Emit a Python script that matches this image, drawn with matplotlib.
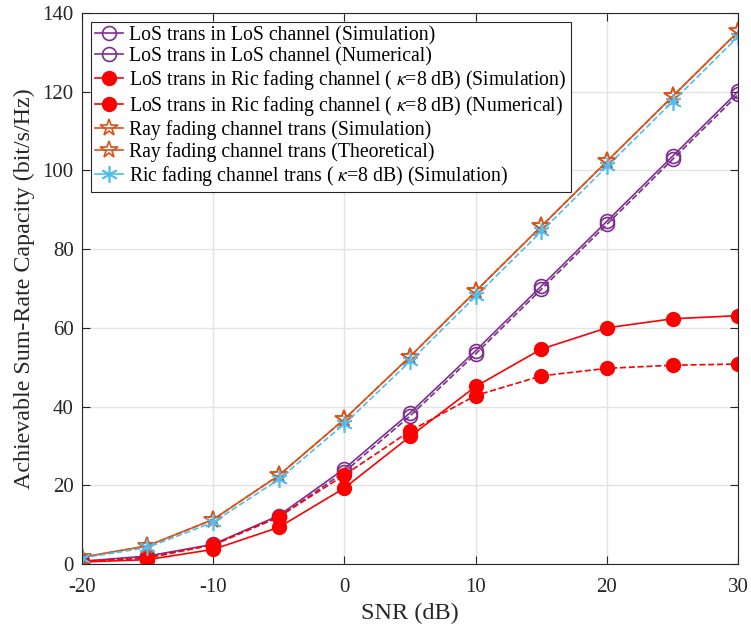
import numpy as np
import matplotlib
matplotlib.use('Agg')
import matplotlib.pyplot as plt

plt.rcParams['font.family'] = ['Liberation Serif', 'DejaVu Serif']
plt.rcParams['mathtext.fontset'] = 'stix'
plt.rcParams['axes.unicode_minus'] = False

snr = [-20, -15, -10, -5, 0, 5, 10, 15, 20, 25, 30]

los_los_sim = [0.7, 2.0, 5.0, 12.3, 24.2, 38.4, 54.2, 70.6, 87.1, 103.6, 120.1]
los_los_num = [0.6, 1.9, 4.8, 11.9, 23.4, 37.6, 53.4, 69.8, 86.3, 102.8, 119.3]
los_ric_sim = [0.5, 1.1, 3.7, 9.3, 19.3, 32.4, 45.1, 54.6, 60.0, 62.3, 63.1]
los_ric_num = [0.6, 1.5, 4.9, 12.0, 22.6, 33.8, 42.8, 47.8, 49.7, 50.5, 50.8]
ray_sim = [1.7, 4.6, 11.3, 22.5, 36.8, 52.7, 69.3, 85.8, 102.3, 118.8, 135.3]
ray_theo = [1.7, 4.6, 11.3, 22.5, 36.8, 52.7, 69.3, 85.8, 102.3, 118.8, 135.3]
ric_sim = [1.5, 4.2, 10.6, 21.5, 35.6, 51.5, 68.0, 84.5, 101.0, 117.5, 134.0]

labels = ['LoS trans in LoS channel (Simulation)',
          'LoS trans in LoS channel (Numerical)',
          r'LoS trans in Ric fading channel ( $\kappa$=8 dB) (Simulation)',
          r'LoS trans in Ric fading channel ( $\kappa$=8 dB) (Numerical)',
          'Ray fading channel trans (Simulation)',
          'Ray fading channel trans (Theoretical)',
          r'Ric fading channel trans ( $\kappa$=8 dB) (Simulation)']

purple = '#7E2F8E'
orange = '#D95319'
blue = '#4DBEEE'
red = '#FF0000'

fig = plt.figure(figsize=(7.51, 6.30), dpi=100)
ax = fig.add_axes([0.109, 0.1048, 0.874, 0.8746])

ax.plot(snr, los_los_sim, '-', color=purple, marker='o', mfc='none', ms=10, mew=1.2, lw=1.2, label=labels[0])
ax.plot(snr, los_los_num, '--', color=purple, marker='o', mfc='none', ms=10, mew=1.2, lw=1.2, label=labels[1])
ax.plot(snr, los_ric_sim, '-', color=red, marker='o', mfc=red, ms=10, lw=1.2, label=labels[2])
ax.plot(snr, los_ric_num, '--', color=red, marker='o', mfc=red, ms=10, lw=1.2, label=labels[3])
ax.plot(snr, ray_sim, '-', color=orange, marker='*', mfc='none', ms=13, mew=1.2, lw=1.2, label=labels[4])
ax.plot(snr, ray_theo, '--', color=orange, marker='*', mfc='none', ms=13, mew=1.2, lw=1.2, label=labels[5])
ax.plot(snr, ric_sim, '--', color=blue, marker=(6, 2, 0), ms=12, mew=1.2, lw=1.2, label=labels[6])

ax.set_xlim(-20, 30)
ax.set_ylim(0, 140)
ax.set_xticks([-20, -10, 0, 10, 20, 30])
ax.set_yticks([0, 20, 40, 60, 80, 100, 120, 140])
ax.grid(True, color='#E3E3E3', lw=1)
ax.set_axisbelow(True)
ax.tick_params(direction='in', top=True, right=True, labelsize=15, colors='#262626', length=6)
ax.tick_params(axis='x', pad=10)
ax.tick_params(axis='y', pad=6)
for s in ax.spines.values():
    s.set_color('#262626')
ax.set_xlabel('SNR (dB)', fontsize=17.5, color='#262626', labelpad=4)
ax.set_ylabel('Achievable Sum-Rate Capacity (bit/s/Hz)', fontsize=17.3, color='#262626', labelpad=5)

leg = ax.legend(loc='upper left', bbox_to_anchor=(0.0137, 0.984), borderaxespad=0,
                fontsize=14.2, handlelength=1.45, handletextpad=0.3, labelspacing=0.1,
                fancybox=False, edgecolor='#262626', framealpha=1, borderpad=0.2)
leg.get_frame().set_linewidth(0.8)
# legend shows plain solid strokes for every entry
for ln in leg.get_lines():
    ln.set_linestyle('-')

fig.savefig('out.png', dpi=100)
